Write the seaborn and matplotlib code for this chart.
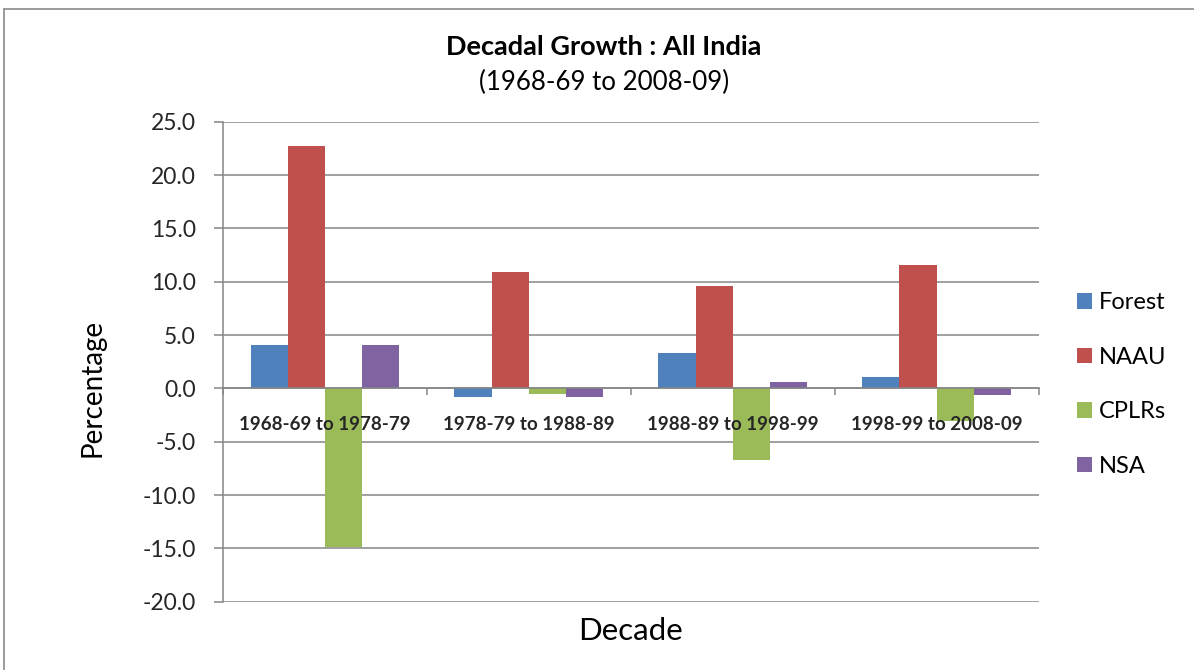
import matplotlib
matplotlib.use("Agg")
import matplotlib.pyplot as plt
from matplotlib.lines import Line2D
import numpy as np
import pandas as pd
import seaborn as sns

# Decadal growth (%) by land-use category, All India
decades = ["1968-69 to 1978-79", "1978-79 to 1988-89",
           "1988-89 to 1998-99", "1998-99 to 2008-09"]
forest = [4.1, -0.8, 3.3, 1.1]
naau = [22.7, 10.9, 9.6, 11.6]
cplrs = [-14.9, -0.5, -6.7, -3.1]
nsa = [4.1, -0.8, 0.6, -0.6]
series_names = ["Forest", "NAAU", "CPLRs", "NSA"]
series_colors = ["#4F81BD", "#C0504D", "#9BBB59", "#8064A2"]
y_ticks = [-20, -15, -10, -5, 0, 5, 10, 15, 20, 25]

wide = pd.DataFrame({"Decade": decades, "Forest": forest, "NAAU": naau,
                     "CPLRs": cplrs, "NSA": nsa})
long = wide.melt(id_vars="Decade", var_name="Series", value_name="Growth")

sns.set_theme(style="white")
plt.rcParams["font.family"] = ["Lato", "DejaVu Sans"]
plt.rcParams["text.color"] = "black"

W, H = 1194, 670
fig = plt.figure(figsize=(W / 100, H / 100), dpi=100)
fig.patch.set_facecolor("white")

left, right, top, bottom = 222.7, 1038.5, 121.7, 601.7
ax = fig.add_axes([left / W, 1 - bottom / H, (right - left) / W, (bottom - top) / H])

sns.barplot(data=long, x="Decade", y="Growth", hue="Series",
            order=decades, hue_order=series_names, palette=series_colors,
            width=0.727, saturation=1, edgecolor="none", linewidth=0,
            ax=ax, zorder=3)

grey = "#868686"
ax.set_xlim(-0.5, len(decades) - 0.5)
ax.set_ylim(-20, 25)
ax.set_yticks(y_ticks)
ax.set_yticklabels([f"{v:.1f}" for v in y_ticks], fontsize=16.5)
ax.yaxis.grid(True, color=grey, linewidth=1.1, zorder=0)
ax.xaxis.grid(False)
ax.set_axisbelow(True)
# category labels sit on top of the bars, gridlines stay behind them
ax.xaxis.set_zorder(5)

for side in ("top", "right"):
    ax.spines[side].set_visible(False)
ax.spines["left"].set_color(grey)
ax.spines["left"].set_linewidth(1.1)
ax.spines["bottom"].set_position(("data", 0))
ax.spines["bottom"].set_color(grey)
ax.spines["bottom"].set_linewidth(1.1)
ax.spines["bottom"].set_zorder(4)

ax.tick_params(axis="y", direction="out", length=6.3, width=1.1,
               color=grey, pad=13, left=True)
ax.set_xticks(range(len(decades)))
ax.set_xticklabels(decades, fontsize=13.5, fontweight="bold")
ax.set_xticks(np.arange(-0.5, len(decades), 1.0), minor=True)
ax.tick_params(axis="x", which="major", length=0, pad=20, bottom=True)
ax.tick_params(axis="x", which="minor", direction="out", length=5,
               width=1.1, color=grey, bottom=True)
ax.set_xlabel("")
ax.set_ylabel("")

handles, labels = ax.get_legend_handles_labels()
ax.legend(handles, labels, loc="center left",
          bbox_to_anchor=(1076.7 / W, 1 - 384.7 / H),
          bbox_transform=fig.transFigure, frameon=False, fontsize=17,
          handlelength=0.64, handleheight=0.64, handletextpad=0.31,
          labelspacing=1.42, borderpad=0, borderaxespad=0)

fig.text(604 / W, 1 - 47 / H, "Decadal Growth : All India",
         ha="center", va="center", fontsize=19.5, fontweight="bold")
fig.text(604 / W, 1 - 82 / H, "(1968-69 to 2008-09)",
         ha="center", va="center", fontsize=18.6)
fig.text(630.5 / W, 1 - 630.7 / H, "Decade",
         ha="center", va="center", fontsize=22.5)
fig.text(92 / W, 1 - 388 / H, "Percentage", rotation=90,
         ha="center", va="center", fontsize=20)

# chart-area frame
fig.add_artist(Line2D([4 / W, 1.0], [1 - 9 / H, 1 - 9 / H],
                      transform=fig.transFigure, color="#8a8a8a", linewidth=1.2))
fig.add_artist(Line2D([4 / W, 4 / W], [0.0, 1 - 9 / H],
                      transform=fig.transFigure, color="#8a8a8a", linewidth=1.2))

fig.savefig("out.png", dpi=100, facecolor="white")
